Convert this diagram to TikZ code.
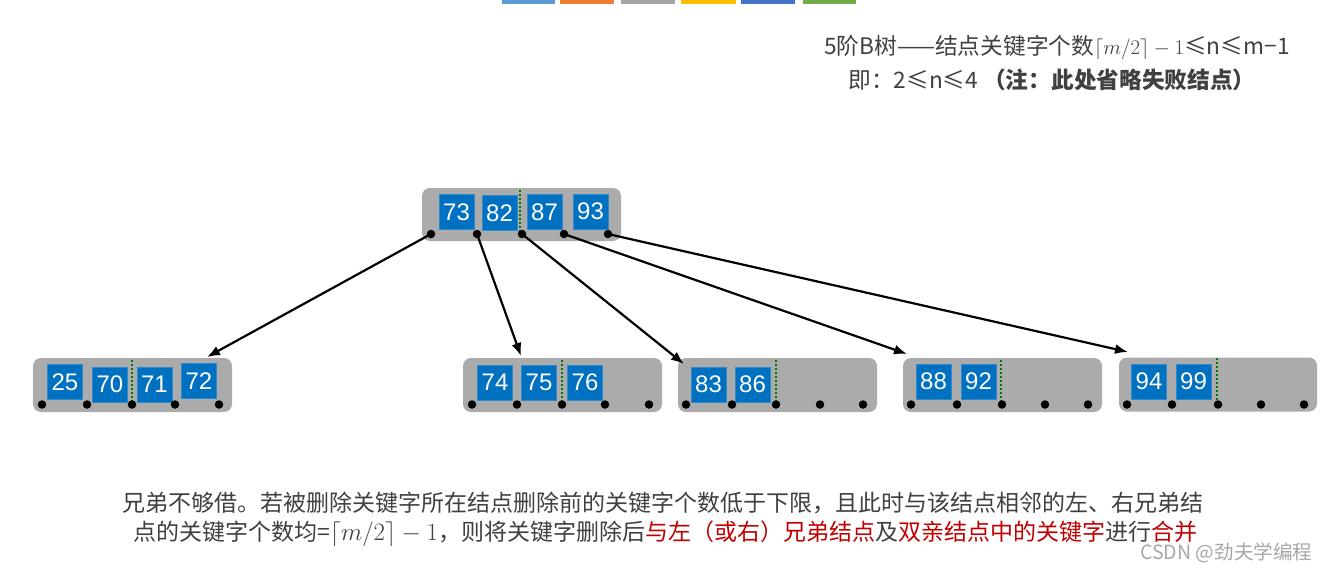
\documentclass[tikz,border=0pt]{standalone}
\usepackage{fontspec}
\setmainfont{Noto Sans CJK SC}
\newfontfamily\numfont{Liberation Sans}
\usetikzlibrary{arrows.meta}
\definecolor{keyblue}{HTML}{0070C0}
\definecolor{keyedge}{HTML}{2E8BD0}
\definecolor{nodegray}{HTML}{ABABAB}
\definecolor{sepgreen}{HTML}{007A00}
\definecolor{textgray}{HTML}{404040}
\definecolor{hired}{HTML}{C00000}
\definecolor{wmgray}{HTML}{A8A8A8}
\definecolor{barA}{HTML}{5B9BD5}
\definecolor{barB}{HTML}{ED7D31}
\definecolor{barC}{HTML}{A5A5A5}
\definecolor{barD}{HTML}{FFC000}
\definecolor{barE}{HTML}{4472C4}
\definecolor{barF}{HTML}{70AD47}
\begin{document}
\begin{tikzpicture}[x=1pt,y=-1pt,
  bnode/.style={fill=nodegray, rounded corners=8pt, minimum width=199pt, minimum height=54pt, inner sep=0pt},
  keybox/.style={fill=keyblue, draw=keyedge, line width=0.6pt, minimum width=35pt, minimum height=35pt, inner sep=0pt, text=white, font=\numfont\fontsize{24}{24}\selectfont},
  ptr/.style={circle, fill=black, minimum size=8.5pt, inner sep=0pt},
  sepline/.style={draw=sepgreen, line width=2pt, dash pattern=on 2pt off 2pt},
  link/.style={draw=black, line width=2.2pt, -{Latex[length=13pt,width=10pt]}},
  txt/.style={text=textgray, inner sep=0pt, font=\fontsize{23}{27}\selectfont},
  head/.style={text=textgray, inner sep=0pt, font=\fontsize{22.7}{26}\selectfont}
]
\useasboundingbox (0,0) rectangle (1327,574);
\fill[white] (0,0) rectangle (1327,574);

% top colour bars
\fill[barA] (502,0) rectangle (555,3.5);
\fill[barB] (560,0) rectangle (614,3.5);
\fill[barC] (621,0) rectangle (675,3.5);
\fill[barD] (681,0) rectangle (736,3.5);
\fill[barE] (741,0) rectangle (795,3.5);
\fill[barF] (803,0) rectangle (856,3.5);

% header text
\node[head] (h1) at (1057,47) {5阶B树——结点关键字个数$\lceil m/2\rceil - 1$≤n≤m−1};
\node[head] (h2) at (1052,80) {即：2≤n≤4 \textbf{（注：此处省略失败结点）}};

% root node
\node[bnode, minimum height=53pt] (root) at (521.5,214.5) {};
\node[keybox] (k73) at (456.5,212) {73};
\node[keybox] (k82) at (499.5,213) {82};
\node[keybox] (k87) at (544.5,212) {87};
\node[keybox] (k93) at (590.5,211.5) {93};
\draw[sepline] (520,190) -- (520,233);
\node[ptr] (r1) at (431,234) {};
\node[ptr] (r2) at (477,234) {};
\node[ptr] (r3) at (522,234) {};
\node[ptr] (r4) at (564,234) {};
\node[ptr] (r5) at (608,234) {};

% leaf 1
\node[bnode] (l1) at (132.5,385) {};
\node[keybox] (k25) at (65,382) {25};
\node[keybox] (k70) at (110,384.5) {70};
\node[keybox] (k71) at (154.5,384.5) {71};
\node[keybox] (k72) at (199,381) {72};
\draw[sepline] (132,360) -- (132,402);
\foreach \x [count=\i] in {42,87,132,175,219} \node[ptr] (a\i) at (\x,404.5) {};

% leaf 2
\node[bnode] (l2) at (562.5,385) {};
\node[keybox] (k74) at (495,382.5) {74};
\node[keybox] (k75) at (539,382.5) {75};
\node[keybox] (k76) at (585,382.5) {76};
\draw[sepline] (562,360) -- (562,402);
\foreach \x [count=\i] in {472,517,562,605,649} \node[ptr] (b\i) at (\x,404.5) {};

% leaf 3
\node[bnode] (l3) at (777.5,385) {};
\node[keybox] (k83) at (708.5,384.5) {83};
\node[keybox] (k86) at (752.5,384.5) {86};
\draw[sepline] (776,360) -- (776,402);
\foreach \x [count=\i] in {686,732,776,820,863} \node[ptr] (c\i) at (\x,404.5) {};

% leaf 4
\node[bnode] (l4) at (1002.5,385) {};
\node[keybox] (k88) at (933.5,381.5) {88};
\node[keybox] (k92) at (978.5,381.5) {92};
\draw[sepline] (1001,360) -- (1001,402);
\foreach \x [count=\i] in {911,957,1002,1045,1088} \node[ptr] (d\i) at (\x,404.5) {};

% leaf 5
\node[bnode, minimum width=198pt] (l5) at (1218,384.5) {};
\node[keybox] (k94) at (1149,381.5) {94};
\node[keybox] (k99) at (1193.5,381.5) {99};
\draw[sepline] (1217,358) -- (1217,400);
\foreach \x [count=\i] in {1127,1172,1218,1261,1304} \node[ptr] (e\i) at (\x,404.5) {};

% arrow targets
\coordinate (t1) at (207,357);
\coordinate (t2) at (521,356);
\coordinate (t3) at (684,364);
\coordinate (t4) at (907,354);
\coordinate (t5) at (1128,352);
\draw[link] (r1.center) -- (t1);
\draw[link] (r2.center) -- (t2);
\draw[link] (r3.center) -- (t3);
\draw[link] (r4.center) -- (t4);
\draw[link] (r5.center) -- (t5);

% bottom text
\node[txt, anchor=west] (f1) at (122,503) {兄弟不够借。若被删除关键字所在结点删除前的关键字个数低于下限，且此时与该结点相邻的左、右兄弟结};
\node[txt, anchor=west] (f2) at (133,534) {点的关键字个数均=$\lceil m/2\rceil - 1$，则将关键字删除后\textcolor{hired}{与左（或右）兄弟结点}及\textcolor{hired}{双亲结点中的关键字}进行\textcolor{hired}{合并}};

% watermark
\node[inner sep=0pt, anchor=west, text=wmgray, font=\fontsize{19.6}{22}\selectfont] (wm) at (1140,553) {CSDN @劲夫学编程};
\end{tikzpicture}
\end{document}
